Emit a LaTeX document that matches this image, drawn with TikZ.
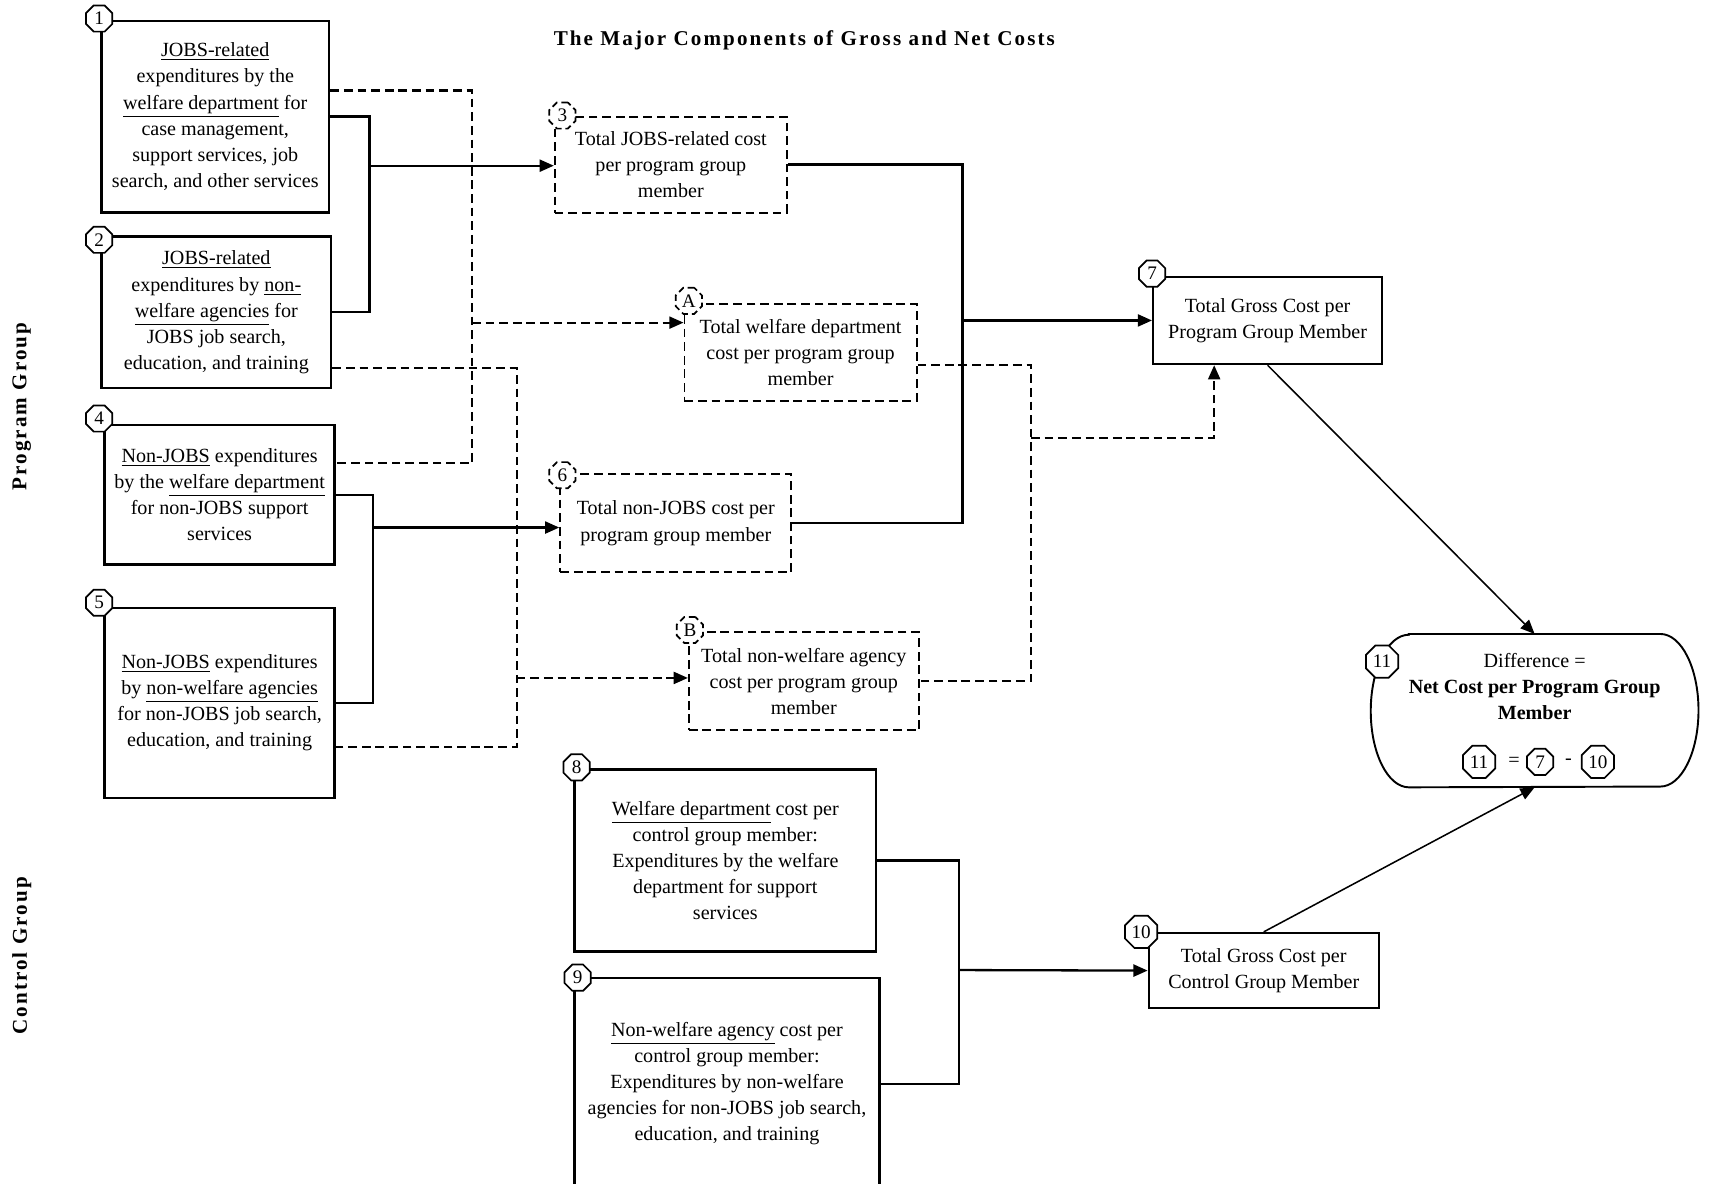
\documentclass[tikz,border=0pt]{standalone}
\usepackage{fontspec}
\setmainfont{Liberation Serif}
\usetikzlibrary{arrows.meta,shapes.geometric}

\begin{document}
\begin{tikzpicture}[x=0.2mm, y=-0.2mm,
    every node/.style={font=\fontsize{10.5}{13.6}\selectfont, align=center},
    box/.style={draw, rectangle, line width=1.2pt, inner sep=1pt},
    dbox/.style={box, line width=1pt, dash pattern=on 1.6mm off 0.9mm},
    badge/.style={draw, fill=white, regular polygon, regular polygon sides=8,
        minimum size=5.2mm, inner sep=0pt, line width=0.9pt,
        font=\fontsize{10}{12}\selectfont},
    dbadge/.style={badge, dash pattern=on 1.2mm off 0.7mm},
    wide/.style={minimum size=6.4mm},
    conn/.style={line width=1.2pt},
    dconn/.style={line width=1.1pt, dash pattern=on 1.6mm off 0.9mm},
    diag/.style={line width=0.8pt},
    arr/.style={-{Triangle[length=2.6mm,width=2.2mm]}}]
  \useasboundingbox (0,0) rectangle (1568,1086);
  \clip (0,0) rectangle (1568,1086);

  % headings
  \node[font=\fontsize{11}{13}\bfseries\addfontfeature{LetterSpace=10}] (title) at (738,37)
    {The Major Components of Gross and Net Costs};
  \node[rotate=90, font=\fontsize{11}{13}\bfseries\addfontfeature{LetterSpace=10}] (prog) at (20,373) {Program Group};
  \node[rotate=90, font=\fontsize{11}{13}\bfseries\addfontfeature{LetterSpace=10}] (ctrl) at (20,877) {Control Group};

  % program group expenditures
  \node[box, minimum width=41.8mm, minimum height=35.2mm] (n1) at (197.5,107)
    {\underline{JOBS-related}\\expenditures by the\\\underline{welfare department} for\\
     case management,\\support services, job\\search, and other services};
  \node[box, minimum width=42.2mm, minimum height=27.8mm] (n2) at (198.5,286.5)
    {\underline{JOBS-related}\\expenditures by \underline{non-}\\\underline{welfare agencies} for\\
     JOBS job search,\\education, and training};
  \node[box, minimum width=42.2mm, minimum height=25.6mm] (n4) at (201.5,454)
    {\underline{Non-JOBS} expenditures\\by the \underline{welfare department}\\
     for non-JOBS support\\services};
  \node[box, minimum width=42.2mm, minimum height=34.8mm] (n5) at (201.5,645)
    {\underline{Non-JOBS} expenditures\\by \underline{non-welfare agencies}\\
     for non-JOBS job search,\\education, and training};

  % program group totals
  \node[dbox, minimum width=42.6mm, minimum height=17.6mm] (n3) at (615.5,151)
    {Total JOBS-related cost\\per program group\\member};
  \node[dbox, minimum width=42.6mm, minimum height=17.8mm] (nA) at (734.5,323.5)
    {Total welfare department\\cost per program group\\member};
  \node[dbox, minimum width=42.4mm, minimum height=18mm] (n6) at (620,480)
    {Total non-JOBS cost per\\program group member};
  \node[dbox, minimum width=42.2mm, minimum height=18mm] (nB) at (737.5,625)
    {Total non-welfare agency\\cost per program group\\member};
  \node[box, minimum width=42mm, minimum height=16mm] (n7) at (1163,294)
    {Total Gross Cost per\\Program Group Member};

  % control group
  \node[box, minimum width=55.4mm, minimum height=33.4mm] (n8) at (665.5,789.5)
    {\underline{Welfare department} cost per\\control group member:\\
     Expenditures by the welfare\\department for support\\services};
  \node[box, minimum width=56mm, minimum height=39mm] (n9) at (667,994.5)
    {\underline{Non-welfare agency} cost per\\control group member:\\
     Expenditures by non-welfare\\agencies for non-JOBS job search,\\education, and training};
  \node[box, minimum width=42.2mm, minimum height=13.8mm] (n10) at (1159.5,890.5)
    {Total Gross Cost per\\Control Group Member};

  % net cost: flat top and bottom, half-elliptic ends
  \node[minimum width=60mm, minimum height=28mm] (n11) at (1408,652) {};
  \draw[line width=1pt] ([xshift=7mm]n11.north west) -- ([xshift=-7mm]n11.north east)
    arc[start angle=90, end angle=-90, x radius=7mm, y radius=14mm]
    -- ([xshift=7mm]n11.south west)
    arc[start angle=270, end angle=90, x radius=7mm, y radius=14mm] -- cycle;
  \node (n11txt) at (1408,630)
    {Difference =\\\textbf{Net Cost per Program Group}\\\textbf{Member}};
  \node[badge, wide] (f11) at (1357,699) {11};
  \node (feq) at (1389,699) {=};
  \node[badge] (f7) at (1413,699) {7};
  \node (fminus) at (1439,699) {-};
  \node[badge, wide] (f10) at (1466,699) {10};

  % connectors
  \coordinate (s12) at (339,152);
  \coordinate (dA) at (433,296);
  \coordinate (dB) at (474,622);
  \coordinate (s45) at (342,484);
  \coordinate (s36) at (883,294);
  \coordinate (dAB) at (946,402);
  \coordinate (s89) at (880,890);

  \draw[conn] (n1.east) -| (s12) |- (n2.east);
  \draw[conn,arr] (s12) -- (s12 -| n3.west);
  \draw[dconn] ([yshift=4.8mm]n1.east) -| (dA) |- ([yshift=5.8mm]n4.east);
  \draw[dconn,arr] (dA) -- (dA -| nA.west);
  \draw[dconn] ([yshift=-10.3mm]n2.east) -| (dB) |- ([yshift=-8mm]n5.east);
  \draw[dconn,arr] (dB) -- (dB -| nB.west);
  \draw[conn] (n4.east) -| (s45) |- (n5.east);
  \draw[conn,arr] (s45) -- (s45 -| n6.west);
  \draw[conn] (n3.east) -| (s36) |- (n6.east);
  \draw[conn,arr] (s36) -- (n7.west);
  \draw[dconn] ([yshift=-2.3mm]nA.east) -| (dAB) |- (nB.east);
  \draw[dconn,arr] (dAB) -| ([xshift=-9.8mm]n7.south);
  \draw[diag,arr] (n7.south) -- (n11.north);
  \draw[conn] (n8.east) -| (s89) |- (n9.east);
  \draw[conn,arr] (s89) -- (n10.west);
  \draw[diag,arr] (n10.north) -- (n11.south);

  % number tags
  \node[badge] (b1) at (91,17) {1};
  \node[badge] (b2) at (91,220) {2};
  \node[badge] (b4) at (91,384) {4};
  \node[badge] (b5) at (91,553) {5};
  \node[dbadge] (b3) at (516,106) {3};
  \node[dbadge] (bA) at (632,276) {A};
  \node[dbadge] (b6) at (516,436) {6};
  \node[dbadge] (bB) at (633,578) {B};
  \node[badge] (b7) at (1057,251) {7};
  \node[badge] (b8) at (529,704) {8};
  \node[badge] (b9) at (530,897) {9};
  \node[badge, wide] (b10) at (1047,855) {10};
  \node[badge, wide] (b11) at (1268,607) {11};
\end{tikzpicture}
\end{document}
